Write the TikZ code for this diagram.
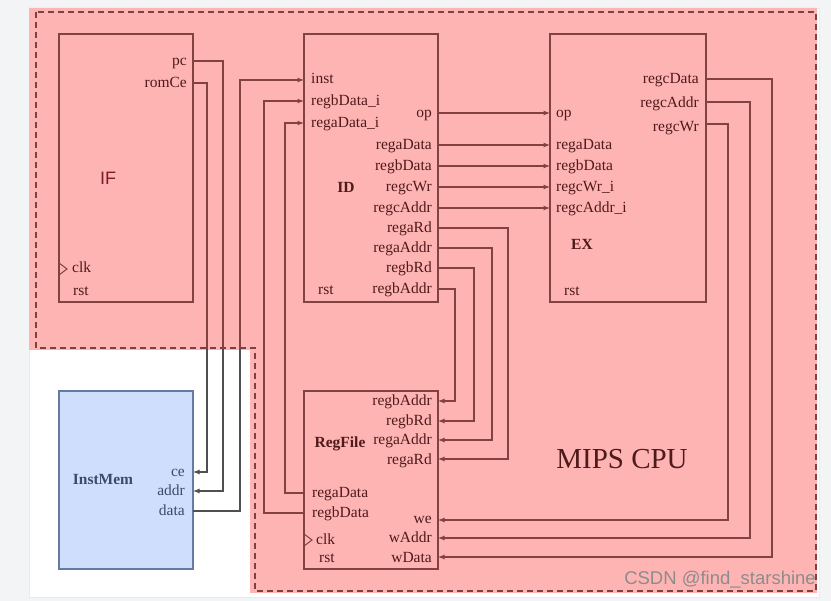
\documentclass[tikz,border=0pt]{standalone}
\usepackage{fontspec}
\setmainfont{Liberation Serif}
\newfontfamily\sansf{Liberation Sans}
\usetikzlibrary{arrows.meta}
\definecolor{bgc}{HTML}{F3F4F6}
\definecolor{pagec}{HTML}{FFFFFF}
\definecolor{pinkc}{HTML}{FFB4B4}
\definecolor{linec}{HTML}{834242}
\definecolor{dashc}{HTML}{7A4242}
\definecolor{txtc}{HTML}{4F1A1A}
\definecolor{grayw}{HTML}{505050}
\definecolor{imfill}{HTML}{CFDEFC}
\definecolor{imdraw}{HTML}{6679A3}
\definecolor{imtxt}{HTML}{3D4B6B}
\definecolor{ifc}{HTML}{7E1B28}
\definecolor{wmc}{HTML}{8C8C8C}
\newcommand\lblfont{\fontsize{15.5}{18}\selectfont}
\newcommand\imwires[1]{%
  \draw[arr,draw=#1] (IF-pc) -- ++(30,0) |- (IM-addr);
  \draw[arr,draw=#1] (IF-romCe) -- ++(14,0) |- (IM-ce);
  \draw[arr,draw=#1] (IM-data) -- ++(47,0) |- (ID-inst);
}
\begin{document}
\begin{tikzpicture}[x=1pt,y=-1pt,
  blk/.style={draw=linec, line width=1.3pt, inner sep=0pt},
  lr/.style={anchor=mid east, inner sep=0pt, text=txtc, font=\lblfont, yshift=-2.5pt},
  ll/.style={anchor=mid west, inner sep=0pt, text=txtc, font=\lblfont, yshift=-2.5pt},
  ttl/.style={inner sep=0pt, text=txtc, font=\lblfont\bfseries},
  wire/.style={draw=linec, line width=1.1pt},
  arr/.style={wire, -{Latex[length=6.5pt,width=5pt]}},
  clkmark/.style={draw=linec, line width=1pt},
]
\useasboundingbox (0,0) rectangle (831,601);
% background, page, pink area
\fill[bgc] (0,0) rectangle (831,601);
\filldraw[fill=pagec, draw=black!8] (29,8) rectangle (819,597);
\fill[pinkc] (29,8) -- (817,8) -- (817,593) -- (250,593) -- (250,350) -- (29,350) -- cycle;
\draw[dashc, line width=1.2pt, dash pattern=on 6pt off 4pt]
  (36,12) -- (36,348) -- (255,348) -- (255,591) -- (816,591) -- (816,12) -- cycle;

% blocks
\node[blk, minimum width=134pt, minimum height=268pt] (IF) at (126,168) {};
\node[blk, minimum width=134pt, minimum height=268pt] (ID) at (371,168) {};
\node[blk, minimum width=156pt, minimum height=268pt] (EX) at (628,168) {};
\node[blk, minimum width=134pt, minimum height=178pt] (RF) at (371,480) {};
\node[draw=imdraw, fill=imfill, line width=1.5pt, inner sep=0pt,
      minimum width=134pt, minimum height=178pt] (IM) at (126,480) {};

% titles
\node[inner sep=0pt, text=ifc, font=\sansf\fontsize{18}{20}\selectfont] (t-IF) at (108,178) {IF};
\node[ttl] (t-ID) at (346,187) {ID};
\node[ttl] (t-EX) at (582,244) {EX};
\node[ttl] (t-RF) at (340,444) {RegFile};
\node[inner sep=0pt, text=imtxt, font=\lblfont\bfseries] (t-IM) at (103,480) {InstMem};
\node[inner sep=0pt, text=txtc, font=\fontsize{29}{32}\selectfont] (t-CPU) at (622,459) {MIPS CPU};

% IF labels
\node[lr] (l-if-pc) at (187,61) {pc};
\node[lr] (l-if-romce) at (187,83) {romCe};
\node[ll] (l-if-clk) at (72,268) {clk};
\node[ll] (l-if-rst) at (73,291) {rst};
\draw[clkmark] (59,263) -- (67,269) -- (59,275);

% ID labels
\node[ll] (l-id-inst) at (311,79) {inst};
\node[ll] (l-id-rbi) at (311,101) {regbData\_i};
\node[ll] (l-id-rai) at (311,123) {regaData\_i};
\node[ll] (l-id-rst) at (318,290) {rst};
\node[lr] (l-id-op) at (432,113) {op};
\node[lr] (l-id-rad) at (432,145) {regaData};
\node[lr] (l-id-rbd) at (432,166) {regbData};
\node[lr] (l-id-rcw) at (432,187) {regcWr};
\node[lr] (l-id-rca) at (432,208) {regcAddr};
\node[lr] (l-id-rard) at (432,228) {regaRd};
\node[lr] (l-id-raa) at (432,248) {regaAddr};
\node[lr] (l-id-rbrd) at (432,268) {regbRd};
\node[lr] (l-id-rba) at (432,289) {regbAddr};

% EX labels
\node[ll] (l-ex-op) at (556,113) {op};
\node[ll] (l-ex-rad) at (556,145) {regaData};
\node[ll] (l-ex-rbd) at (556,166) {regbData};
\node[ll] (l-ex-rcw) at (556,187) {regcWr\_i};
\node[ll] (l-ex-rca) at (556,208) {regcAddr\_i};
\node[ll] (l-ex-rst) at (564,291) {rst};
\node[lr] (l-ex-rcd) at (699,79) {regcData};
\node[lr] (l-ex-rcao) at (699,103) {regcAddr};
\node[lr] (l-ex-rcwo) at (699,127) {regcWr};

% RegFile labels
\node[lr] (l-rf-rba) at (432,401) {regbAddr};
\node[lr] (l-rf-rbrd) at (432,421) {regbRd};
\node[lr] (l-rf-raa) at (432,440) {regaAddr};
\node[lr] (l-rf-rard) at (432,460) {regaRd};
\node[lr] (l-rf-we) at (432,519) {we};
\node[lr] (l-rf-wa) at (432,538) {wAddr};
\node[lr] (l-rf-wd) at (432,558) {wData};
\node[ll] (l-rf-rad) at (312,493) {regaData};
\node[ll] (l-rf-rbd) at (312,513) {regbData};
\node[ll] (l-rf-clk) at (316,540) {clk};
\node[ll] (l-rf-rst) at (319,558) {rst};
\draw[clkmark] (304,534) -- (312,540) -- (304,546);

% InstMem labels
\node[anchor=mid east, inner sep=0pt, text=imtxt, font=\lblfont, yshift=-2.5pt] (l-im-ce) at (185,472) {ce};
\node[anchor=mid east, inner sep=0pt, text=imtxt, font=\lblfont, yshift=-2.5pt] (l-im-addr) at (185,491) {addr};
\node[anchor=mid east, inner sep=0pt, text=imtxt, font=\lblfont, yshift=-2.5pt] (l-im-data) at (185,511) {data};

% port coordinates
\coordinate (IF-pc) at (193,61);
\coordinate (IF-romCe) at (193,83);
\coordinate (IM-ce) at (193,472);
\coordinate (IM-addr) at (193,491);
\coordinate (IM-data) at (193,511);
\coordinate (ID-inst) at (304,80);
\coordinate (ID-rbi) at (304,101);
\coordinate (ID-rai) at (304,123);
\coordinate (ID-op) at (438,113);
\coordinate (ID-rad) at (438,145);
\coordinate (ID-rbd) at (438,166);
\coordinate (ID-rcw) at (438,187);
\coordinate (ID-rca) at (438,208);
\coordinate (ID-rard) at (438,228);
\coordinate (ID-raa) at (438,248);
\coordinate (ID-rbrd) at (438,268);
\coordinate (ID-rba) at (438,289);
\coordinate (EX-op) at (550,113);
\coordinate (EX-rad) at (550,145);
\coordinate (EX-rbd) at (550,166);
\coordinate (EX-rcw) at (550,187);
\coordinate (EX-rca) at (550,208);
\coordinate (EX-rcd) at (706,79);
\coordinate (EX-rcao) at (706,102);
\coordinate (EX-rcwo) at (706,124);
\coordinate (RF-rba) at (438,401);
\coordinate (RF-rbrd) at (438,421);
\coordinate (RF-raa) at (438,440);
\coordinate (RF-rard) at (438,459);
\coordinate (RF-we) at (438,520);
\coordinate (RF-wa) at (438,538);
\coordinate (RF-wd) at (438,557);
\coordinate (RF-rad) at (304,493);
\coordinate (RF-rbd) at (304,513);

% wires between IF / InstMem / ID (two-tone across the pink border)
\begin{scope}
  \clip (0,0) -- (831,0) -- (831,601) -- (250,601) -- (250,350) -- (0,350) -- cycle;
  \imwires{linec}
\end{scope}
\begin{scope}
  \clip (0,350) rectangle (250,601);
  \imwires{grayw}
\end{scope}

% RegFile data back to ID
\draw[arr] (RF-rad) -- ++(-19,0) |- (ID-rai);
\draw[arr] (RF-rbd) -- ++(-40,0) |- (ID-rbi);

% ID -> EX
\draw[arr] (ID-op) -- (EX-op);
\draw[arr] (ID-rad) -- (EX-rad);
\draw[arr] (ID-rbd) -- (EX-rbd);
\draw[arr] (ID-rcw) -- (EX-rcw);
\draw[arr] (ID-rca) -- (EX-rca);

% ID -> RegFile
\draw[arr] (ID-rard) -- ++(70,0) |- (RF-rard);
\draw[arr] (ID-raa) -- ++(54,0) |- (RF-raa);
\draw[arr] (ID-rbrd) -- ++(36,0) |- (RF-rbrd);
\draw[arr] (ID-rba) -- ++(17,0) |- (RF-rba);

% EX -> RegFile
\draw[arr] (EX-rcwo) -- ++(22,0) |- (RF-we);
\draw[arr] (EX-rcao) -- ++(44,0) |- (RF-wa);
\draw[arr] (EX-rcd) -- ++(66,0) |- (RF-wd);

% watermark
\node[anchor=mid east, inner sep=0pt, text=wmc, font=\sansf\fontsize{18.5}{20}\selectfont] (wm) at (816,582) {CSDN @find\_starshine};
\end{tikzpicture}
\end{document}
